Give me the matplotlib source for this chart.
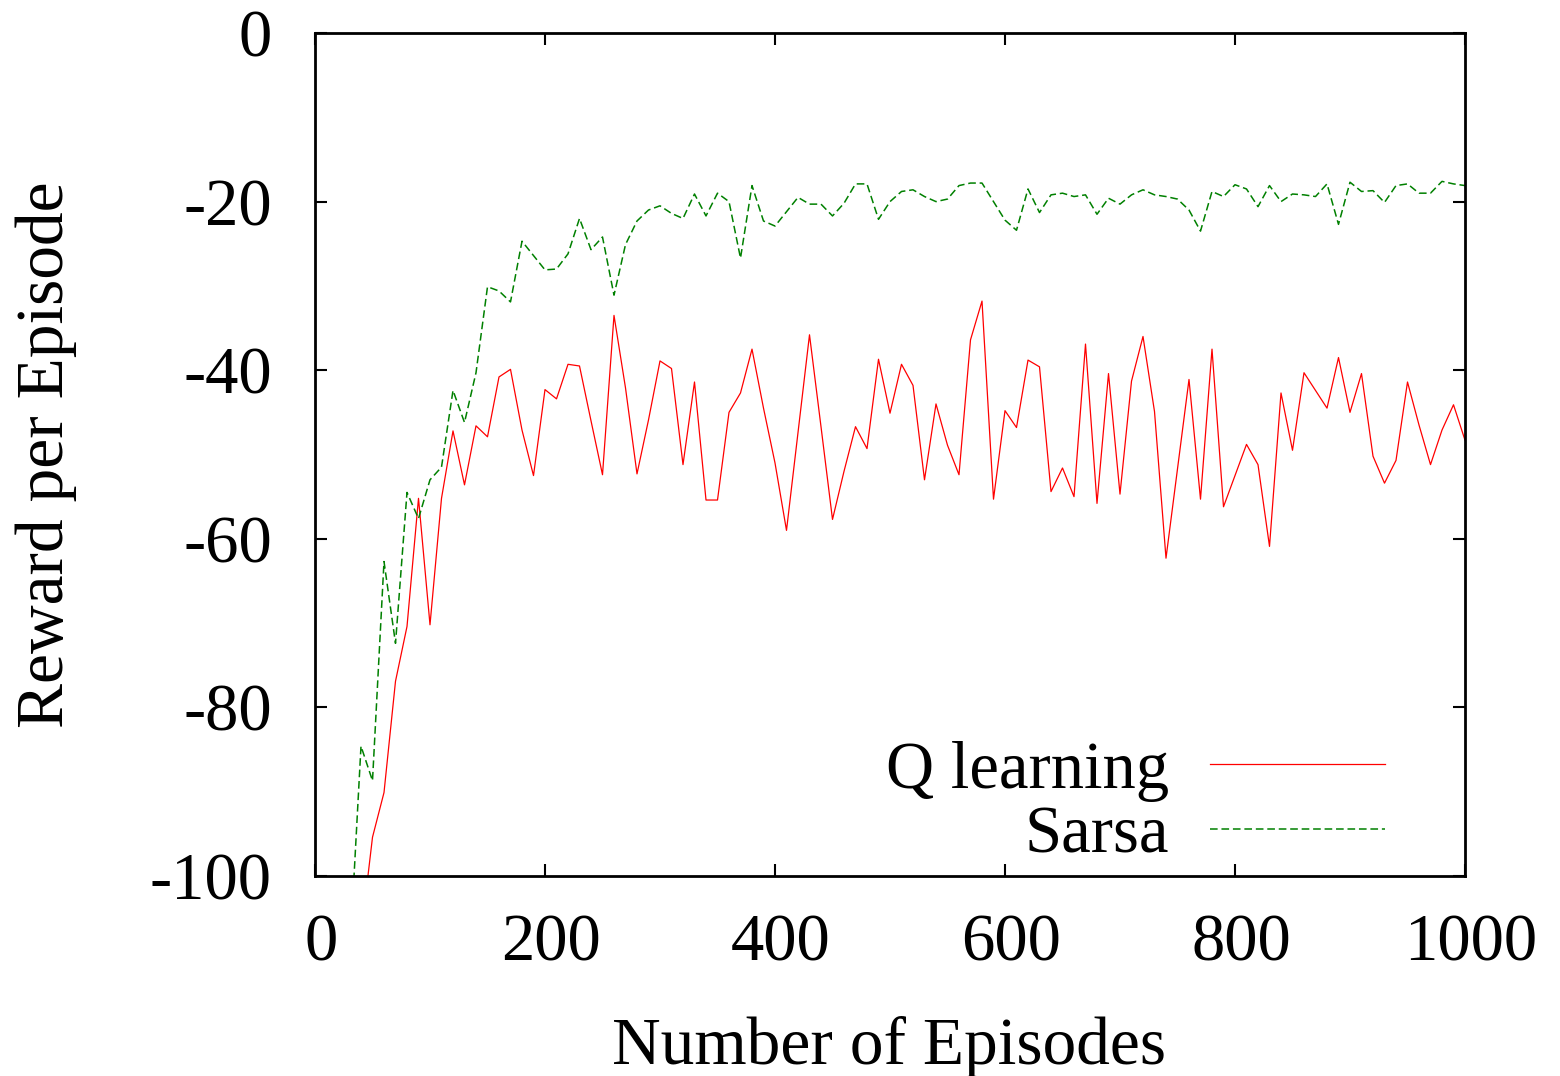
import matplotlib
matplotlib.use("Agg")
import matplotlib.pyplot as plt
import matplotlib.transforms as mtransforms
import numpy as np

episodes = list(range(30, 1001, 10))

q_learning = [
    -112, -107, -95.4, -90.1, -76.9, -70.4, -55.2, -70.2, -55.2, -47.2,
    -53.6, -46.6, -47.9, -40.8, -39.9, -47.1, -52.5, -42.3, -43.4, -39.3,
    -39.5, -46.0, -52.4, -33.5, -42.1, -52.3, -45.9, -38.9, -39.8, -51.2,
    -41.4, -55.4, -55.4, -45.0, -42.7, -37.5, -44.5, -51.0, -59.0, -47.4,
    -35.8, -46.7, -57.7, -52.0, -46.7, -49.3, -38.7, -45.1, -39.3, -41.8,
    -53.0, -44.0, -48.9, -52.4, -36.4, -31.8, -55.3, -44.8, -46.8, -38.8,
    -39.6, -54.4, -51.6, -55.0, -36.9, -55.8, -40.4, -54.7, -41.3, -36.0,
    -44.9, -62.3, -51.7, -41.1, -55.3, -37.5, -56.2, -52.5, -48.8, -51.2,
    -60.9, -42.7, -49.5, -40.3, -42.4, -44.5, -38.5, -45.0, -40.4, -50.2,
    -53.4, -50.7, -41.4, -46.5, -51.2, -47.1, -44.1, -48.3,
]

sarsa = [
    -110, -84.6, -88.7, -62.7, -72.4, -54.5, -57.6, -53.0, -51.5, -42.4,
    -46.2, -40.3, -30.1, -30.6, -31.9, -24.7, -26.4, -28.1, -28.0, -26.2,
    -22.0, -25.7, -24.2, -31.1, -25.1, -22.3, -21.0, -20.5, -21.4, -22.0,
    -19.1, -21.7, -19.0, -20.0, -26.7, -18.1, -22.3, -22.9, -21.2, -19.5,
    -20.3, -20.3, -21.7, -20.2, -17.9, -17.9, -22.1, -20.0, -18.8, -18.6,
    -19.4, -20.0, -19.7, -18.1, -17.8, -17.8, -20.0, -22.2, -23.4, -18.5,
    -21.3, -19.2, -19.0, -19.4, -19.2, -21.5, -19.6, -20.3, -19.2, -18.6,
    -19.2, -19.4, -19.7, -21.0, -23.5, -18.8, -19.4, -18.0, -18.5, -20.6,
    -18.1, -20.0, -19.1, -19.2, -19.4, -17.9, -22.7, -17.7, -18.8, -18.7,
    -20.1, -18.1, -17.9, -19.0, -19.0, -17.6, -17.9, -18.1,
]

x_ticks = [0, 200, 400, 600, 800, 1000]
y_ticks = [-100, -80, -60, -40, -20, 0]

plt.rcParams['font.family'] = ['Liberation Serif', 'DejaVu Serif']

fig = plt.figure(figsize=(15.6, 10.76), dpi=100)
ax = fig.add_axes([315 / 1560, 1 - 876 / 1076, 1150 / 1560, 843 / 1076])

ax.plot(episodes, q_learning, color='#ff0000', lw=0.9, label='Q learning')
ax.plot(episodes, sarsa, color='#008000', lw=1.1, dashes=(5, 2.5), label='Sarsa')

ax.set_xlim(0, 1000)
ax.set_ylim(-100, 0)
ax.set_xticks(x_ticks)
ax.set_yticks(y_ticks)
ax.set_xticklabels([str(v) for v in x_ticks])
ax.set_yticklabels([str(v) for v in y_ticks])

for s in ax.spines.values():
    s.set_linewidth(2.0)

ax.tick_params(axis='both', direction='in', length=8.6, width=1.5,
               top=True, right=True, labelsize=48)
ax.tick_params(axis='y', pad=31)
ax.tick_params(axis='x', pad=27)

shift = mtransforms.ScaledTranslation(6 / 100, 0, fig.dpi_scale_trans)
for lbl in ax.get_xticklabels():
    lbl.set_transform(lbl.get_transform() + shift)

fig.text(889 / 1560, 1 - 1064 / 1076, 'Number of Episodes', fontsize=48.5,
         ha='center', va='baseline')
fig.text(46 / 1560, 1 - 455 / 1076, 'Reward per Episode', fontsize=48.5,
         ha='center', va='center', rotation=90)

leg = ax.legend(loc='lower right', bbox_to_anchor=(0.9304, 0.011),
                frameon=False, markerfirst=False, fontsize=48,
                handlelength=2.62, handletextpad=0.62, labelspacing=0.06,
                borderpad=0, borderaxespad=0)

fig.savefig('out.png', dpi=100)
